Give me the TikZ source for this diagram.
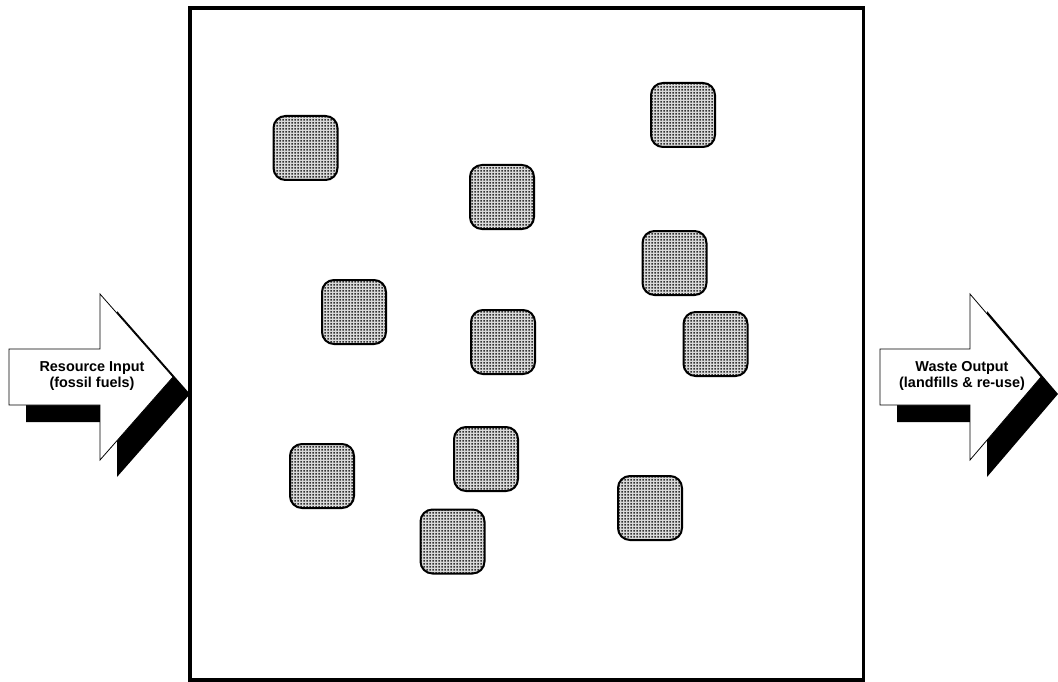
\documentclass[tikz,border=0pt]{standalone}
\usepackage{fontspec}
\setmainfont{Liberation Sans}
\usetikzlibrary{patterns.meta}
\tikzdeclarepattern{
  name=dotgrid,
  type=uncolored,
  bounding box={(0,0) and (3pt,3pt)},
  tile size={(3pt,3pt)},
  code={\fill (0.6pt,0.6pt) rectangle (2.4pt,2.4pt);}
}
\tikzset{
  unit/.style={draw=black, line width=2pt, rounded corners=12pt,
    minimum width=64pt, minimum height=64pt, inner sep=0pt,
    preaction={fill=gray!30}, pattern=dotgrid, pattern color=black!80},
  arrowbody/.style={draw=black, fill=white, line width=0.8pt, line join=miter},
  arrowshadow/.style={fill=black},
  arrowlabel/.style={font=\bfseries\fontsize{14.4}{16.5}\selectfont, align=center, inner sep=0pt},
  frame/.style={draw=black, line width=3.5pt}
}
\begin{document}
\begin{tikzpicture}[x=1pt,y=-1pt]
\useasboundingbox[fill=white] (0,0) rectangle (1058,682);
% input arrow
\fill[arrowshadow] (26,366) -- (117,366) -- (117,311) -- (190,394) -- (117,477) -- (117,422) -- (26,422) -- cycle;
\draw[arrowbody] (9,349) -- (100,349) -- (100,294) -- (173,377) -- (100,460) -- (100,405) -- (9,405) -- cycle;
\node[arrowlabel] (inp) at (92,376) {Resource Input\\(fossil fuels)};
% output arrow
\fill[arrowshadow] (897,366) -- (987,366) -- (987,311) -- (1058,394) -- (987,477) -- (987,422) -- (897,422) -- cycle;
\draw[arrowbody] (880,349) -- (970,349) -- (970,294) -- (1041,377) -- (970,460) -- (970,405) -- (880,405) -- cycle;
\node[arrowlabel] (outp) at (962,376) {Waste Output\\(landfills \& re-use)};
% frame
\draw[frame] (190,8) rectangle (863.5,680);
% units
\node[unit] (b1) at (305.5,148) {};
\node[unit] (b2) at (502,197) {};
\node[unit] (b3) at (683,115) {};
\node[unit] (b4) at (674.5,263) {};
\node[unit] (b5) at (354,312) {};
\node[unit] (b6) at (503,342) {};
\node[unit] (b7) at (715.5,344) {};
\node[unit] (b8) at (322,476) {};
\node[unit] (b9) at (486,459) {};
\node[unit] (b10) at (650,508) {};
\node[unit] (b11) at (452.5,541.5) {};
\end{tikzpicture}
\end{document}
